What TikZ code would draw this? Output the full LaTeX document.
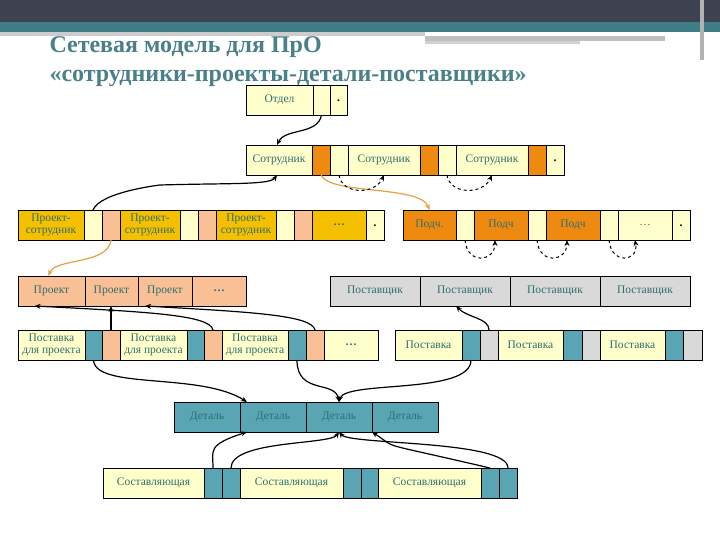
\documentclass[tikz,border=0pt]{standalone}
\usepackage{fontspec}
\setmainfont{Liberation Serif}
\usetikzlibrary{arrows.meta}
\definecolor{ly}{HTML}{FFFFCC}
\definecolor{org}{HTML}{EE8A10}
\definecolor{yor}{HTML}{F5C000}
\definecolor{sal}{HTML}{F9BF95}
\definecolor{gry}{HTML}{D9D9D9}
\definecolor{tea}{HTML}{5AA5B4}
\definecolor{txt}{HTML}{2E6E6E}
\definecolor{ttl}{HTML}{4A8088}
\definecolor{band}{HTML}{3E4150}
\definecolor{strp}{HTML}{3F7E86}
\definecolor{oarr}{HTML}{E8A040}
\tikzset{cellbox/.style={draw=black,line width=0.6pt,inner sep=0,outer sep=0,anchor=north west,minimum height=30pt,font=\fontsize{11.5}{11.5}\selectfont,text=txt,align=center},
arr/.style={line width=1.2pt,-{Stealth[length=6pt,width=5pt]}},
darr/.style={line width=1pt,dashed,-{Stealth[length=6pt,width=5pt]}},
oar/.style={line width=1.2pt,oarr,-{Stealth[length=6pt,width=5pt]}}}
\newcommand\cel[6]{\node[cellbox,fill=#5,minimum width=#3pt] (#1) at (#2pt,-#4pt) {#6};}
\newcommand\dotc{\raisebox{-4pt}{\textcolor{black}{\bfseries .}}}
\begin{document}
\begin{tikzpicture}[x=1pt,y=-1pt]
\useasboundingbox (0,0) rectangle (720,540);
\fill[white] (0,0) rectangle (720,540);
\fill[band] (0,0) rectangle (720,22);
\fill[strp] (0,22) rectangle (720,32);
\fill[gray!40] (0,32) rectangle (425,36);
\fill[gray!50] (425,36) rectangle (665,41);
\fill[gray!35] (425,41) rectangle (580,44);
\fill[gray!60] (700,0) rectangle (704,60);
\node[anchor=west,font=\bfseries\fontsize{24}{24}\selectfont,text=ttl] (t1) at (46,47) {Сетевая модель для ПрО};
\node[anchor=west,font=\bfseries\fontsize{24}{24}\selectfont,text=ttl] (t2) at (46,78) {«сотрудники-проекты-детали-поставщики»};
% Отдел
\cel{od}{246}{67}{85}{ly}{Отдел}
\cel{od1}{313}{17}{85}{ly}{}
\cel{od2}{330}{17}{85}{ly}{\dotc}
% Сотрудник row
\cel{s1}{246}{66}{145}{ly}{Сотрудник}
\cel{s1o}{312}{18}{145}{org}{}
\cel{s1l}{330}{18}{145}{ly}{}
\cel{s2}{348}{72}{145}{ly}{Сотрудник}
\cel{s2o}{420}{18}{145}{org}{}
\cel{s2l}{438}{18}{145}{ly}{}
\cel{s3}{456}{72}{145}{ly}{Сотрудник}
\cel{s3o}{528}{18}{145}{org}{}
\cel{s3l}{546}{18}{145}{ly}{\dotc}
% Проект-сотрудник row
\cel{p1}{18}{66}{210}{yor}{Проект-\\сотрудник}
\cel{p1l}{84}{18}{210}{ly}{}
\cel{p1s}{102}{18}{210}{sal}{}
\cel{p2}{120}{60}{210}{yor}{Проект-\\сотрудник}
\cel{p2l}{180}{18}{210}{ly}{}
\cel{p2s}{198}{18}{210}{sal}{}
\cel{p3}{216}{60}{210}{yor}{Проект-\\сотрудник}
\cel{p3l}{276}{18}{210}{ly}{}
\cel{p3s}{294}{18}{210}{sal}{}
\cel{p4}{312}{54}{210}{yor}{\bfseries …}
\cel{p5}{366}{18}{210}{ly}{\dotc}
% Подч row
\cel{q1}{403}{53}{210}{org}{Подч.}
\cel{q1l}{456}{18}{210}{ly}{}
\cel{q2}{474}{54}{210}{org}{Подч}
\cel{q2l}{528}{18}{210}{ly}{}
\cel{q3}{546}{54}{210}{org}{Подч}
\cel{q3l}{600}{18}{210}{ly}{}
\cel{q4}{618}{54}{210}{ly}{…}
\cel{q5}{672}{18}{210}{ly}{\dotc}
% Проект row
\cel{r1}{18}{67}{276}{sal}{Проект}
\cel{r2}{85}{53}{276}{sal}{Проект}
\cel{r3}{138}{54}{276}{sal}{Проект}
\cel{r4}{192}{54}{276}{sal}{\bfseries …}
% Поставщик row
\cel{v1}{330}{90}{276}{gry}{Поставщик}
\cel{v2}{420}{90}{276}{gry}{Поставщик}
\cel{v3}{510}{90}{276}{gry}{Поставщик}
\cel{v4}{600}{90}{276}{gry}{Поставщик}
% Поставка для проекта
\cel{a1}{18}{67}{330}{ly}{Поставка\\для проекта}
\cel{a1t}{85}{17}{330}{tea}{}
\cel{a1s}{102}{18}{330}{sal}{}
\cel{a2}{120}{67}{330}{ly}{Поставка\\для проекта}
\cel{a2t}{187}{17}{330}{tea}{}
\cel{a2s}{204}{18}{330}{sal}{}
\cel{a3}{222}{66}{330}{ly}{Поставка\\для проекта}
\cel{a3t}{288}{18}{330}{tea}{}
\cel{a3s}{306}{18}{330}{sal}{}
\cel{a4}{324}{54}{330}{ly}{\bfseries …}
% Поставка right
\cel{b1}{395}{67}{330}{ly}{Поставка}
\cel{b1t}{462}{18}{330}{tea}{}
\cel{b1g}{480}{18}{330}{gry}{}
\cel{b2}{498}{65}{330}{ly}{Поставка}
\cel{b2t}{563}{19}{330}{tea}{}
\cel{b2g}{582}{18}{330}{gry}{}
\cel{b3}{600}{65}{330}{ly}{Поставка}
\cel{b3t}{665}{18}{330}{tea}{}
\cel{b3g}{683}{19}{330}{gry}{}
% Деталь
\cel{d1}{174}{66}{402}{tea}{Деталь}
\cel{d2}{240}{66}{402}{tea}{Деталь}
\cel{d3}{306}{66}{402}{tea}{Деталь}
\cel{d4}{372}{66}{402}{tea}{Деталь}
% Составляющая
\cel{c1}{103}{101}{468}{ly}{Составляющая}
\cel{c1a}{204}{18}{468}{tea}{}
\cel{c1b}{222}{18}{468}{tea}{}
\cel{c2}{240}{103}{468}{ly}{Составляющая}
\cel{c2a}{343}{18}{468}{tea}{}
\cel{c2b}{361}{17}{468}{tea}{}
\cel{c3}{378}{103}{468}{ly}{Составляющая}
\cel{c3a}{481}{18}{468}{tea}{}
\cel{c3b}{499}{18}{468}{tea}{}
% connectors
\draw[arr] (od1.south) .. controls (318,135) and (285,128) .. ([xshift=-2pt]s1.south|-s1.north);
\draw[arr] (p1l.north) .. controls (100,192) and (160,185) .. (160,185) .. controls (230,183) and (270,185) .. ([xshift=-2pt]s1.south);
\draw[oar] (s1o.south) .. controls (330,195) and (420,185) .. (q1.north);
\draw[darr] (s1l.south) .. controls (342,195) and (375,195) .. (s2.south);
\draw[darr] (s2l.south) .. controls (450,195) and (483,195) .. (s3.south);
\draw[darr] (q1l.south) .. controls (467,265) and (495,262) .. ([xshift=-6pt]q2.south);
\draw[darr] (q2l.south) .. controls (539,265) and (567,262) .. ([xshift=-6pt]q3.south);
\draw[darr] (q3l.south) .. controls (611,265) and (639,262) .. ([xshift=-10pt]q4.south);
\draw[oar] (p1s.south) .. controls (108,265) and (55,258) .. ([xshift=-3pt]r1.north);
\draw[arr] (a1s.north) -- (a1s.north|-r2.south);
\draw[arr] (a2s.north) .. controls (210,315) and (150,312) .. ([xshift=-17pt]r1.south);
\draw[arr] (a3s.north) .. controls (312,315) and (250,312) .. ([xshift=-20pt]r3.south);
\draw[arr] (b1g.north) .. controls (489,318) and (468,318) .. ([xshift=-9pt]v2.south);
\draw[arr] (a1t.south) .. controls (95,390) and (200,372) .. ([xshift=-26pt]d2.north);
\draw[arr] (a3t.south) .. controls (297,395) and (335,380) .. (d3.north);
\draw[arr] (b1t.south) .. controls (471,395) and (345,380) .. (d3.north);
\draw[arr] (c1a.north) .. controls (213,450) and (207,445) .. ([xshift=-26pt]d2.south);
\draw[arr] (c1b.north) .. controls (231,440) and (330,445) .. (d3.south);
\draw[arr] (c3a.north) .. controls (370,440) and (400,450) .. ([xshift=-33pt]d4.south);
\draw[arr] (c3b.north) .. controls (508,440) and (350,445) .. (d3.south);
\end{tikzpicture}
\end{document}
